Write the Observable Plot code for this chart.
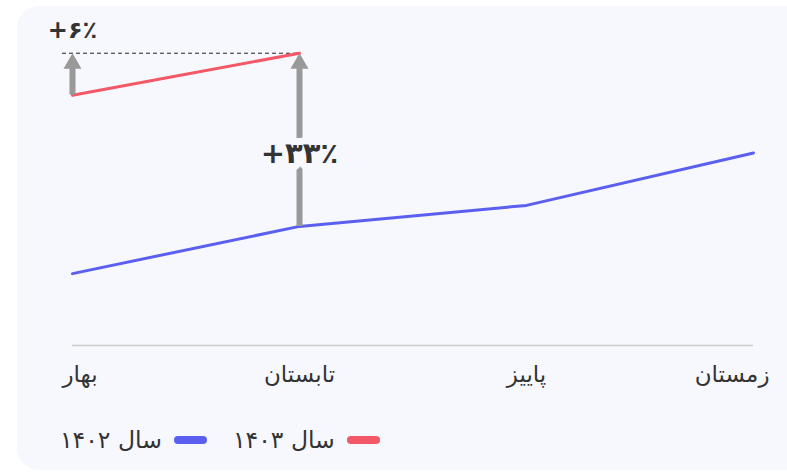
<!DOCTYPE html>
<html>
<head>
<meta charset="utf-8">
<script src="https://cdn.jsdelivr.net/npm/d3@7"></script>
<script src="https://cdn.jsdelivr.net/npm/@observablehq/plot@0.6"></script>
<style>
  html, body { margin: 0; padding: 0; background: #ffffff; width: 787px; height: 472px; overflow: hidden; }
  #card { position: absolute; left: 17px; top: 6px; width: 800px; height: 464px; border-radius: 22px; background: #f7f8fe; }
  #chart { position: absolute; left: 0; top: 0; }
  #legend { position: absolute; left: 60px; top: 426px; display: flex; direction: rtl; gap: 26px;
            font-family: "DejaVu Sans", sans-serif; font-size: 23.5px; color: #333; }
  .item { display: flex; align-items: center; gap: 12px; }
  .sw { display: inline-block; width: 33px; height: 8px; border-radius: 4px; }
</style>
</head>
<body>
<div id="card"></div>
<div id="chart"></div>
<div id="legend"></div>
<script>
const seasons = ["بهار", "تابستان", "پاییز", "زمستان"];
const values1402 = [91, 100, 104, 114];
const values1403 = [125, 133];
const seriesNames = ["سال ۱۴۰۳", "سال ۱۴۰۲"];
const seriesColors = ["#f25865", "#5a5ff0"];

const fa = s => String(s).replace(/\d/g, d => "۰۱۲۳۴۵۶۷۸۹"[d]);

const blue = seasons.map((s, i) => ({season: s, value: values1402[i]}));
const red = values1403.map((v, i) => ({season: seasons[i], value: v}));

const growthPrev = Math.round((values1403[1] / values1403[0] - 1) * 100);
const growthYear = Math.round((values1403[1] / values1402[1] - 1) * 100);

const arrows = [
  {season: seasons[0], from: values1403[0], to: values1403[1]},
  {season: seasons[1], from: values1402[1], to: values1403[1]}
];
const baseline = [{a: seasons[0], b: seasons[seasons.length - 1], v: 77.3}];
const refLine = [{a: seasons[0], b: seasons[1], v: values1403[1]}];

const gray = "#999999";
const ink = "#333333";
const axisStyle = {tickSize: 0, tickPadding: 20, fontSize: 23, fill: ink, label: null};

const chart = Plot.plot({
  width: 787,
  height: 400,
  marginTop: 16,
  marginBottom: 55,
  marginLeft: 72,
  marginRight: 34,
  style: {background: "transparent", fontFamily: "'DejaVu Sans', sans-serif", overflow: "visible"},
  x: {type: "point", domain: seasons, range: [72, 753], padding: 0},
  y: {domain: [77.3, 140], axis: null},
  marks: [
    Plot.ruleY(baseline, {x1: "a", x2: "b", y: "v", stroke: "#cccccc", strokeWidth: 1.5}),
    Plot.axisX([seasons[0]], {...axisStyle, textAnchor: "start", dx: -10}),
    Plot.axisX(seasons.slice(1, -1), {...axisStyle}),
    Plot.axisX([seasons[seasons.length - 1]], {...axisStyle, textAnchor: "end", dx: 16}),
    Plot.ruleY(refLine, {x1: "a", x2: "b", y: "v", stroke: "#222", strokeWidth: 1, strokeDasharray: "4,3", insetLeft: -10}),
    Plot.line(blue, {x: "season", y: "value", stroke: seriesColors[1], strokeWidth: 3}),
    Plot.line(red, {x: "season", y: "value", stroke: seriesColors[0], strokeWidth: 3}),
    Plot.ruleX(arrows, {x: "season", y1: "to", y2: "from", stroke: gray, strokeWidth: 6, insetTop: 14}),
    Plot.dot(arrows, {x: "season", y: "to", symbol: "triangle", r: 6.7, fill: gray, dy: 10.4}),
    Plot.text([{season: seasons[0], value: values1403[1], label: "+" + fa(growthPrev) + "٪"}],
      {x: "season", y: "value", text: "label", dy: -23, fontSize: 24, fontWeight: "bold", fill: ink}),
    Plot.text([{season: seasons[1], value: values1402[1], label: "+" + fa(growthYear) + "٪"}],
      {x: "season", y: "value", text: "label", dy: -73, fontSize: 29, fontWeight: "bold", fill: ink,
       stroke: "#f7f8fe", strokeWidth: 14})
  ]
});
document.getElementById("chart").appendChild(chart);

const legend = document.getElementById("legend");
seriesNames.forEach((name, i) => {
  const item = document.createElement("div");
  item.className = "item";
  const sw = document.createElement("span");
  sw.className = "sw";
  sw.style.background = seriesColors[i];
  const t = document.createElement("span");
  t.textContent = name;
  item.appendChild(sw);
  item.appendChild(t);
  legend.appendChild(item);
});
</script>
</body>
</html>
